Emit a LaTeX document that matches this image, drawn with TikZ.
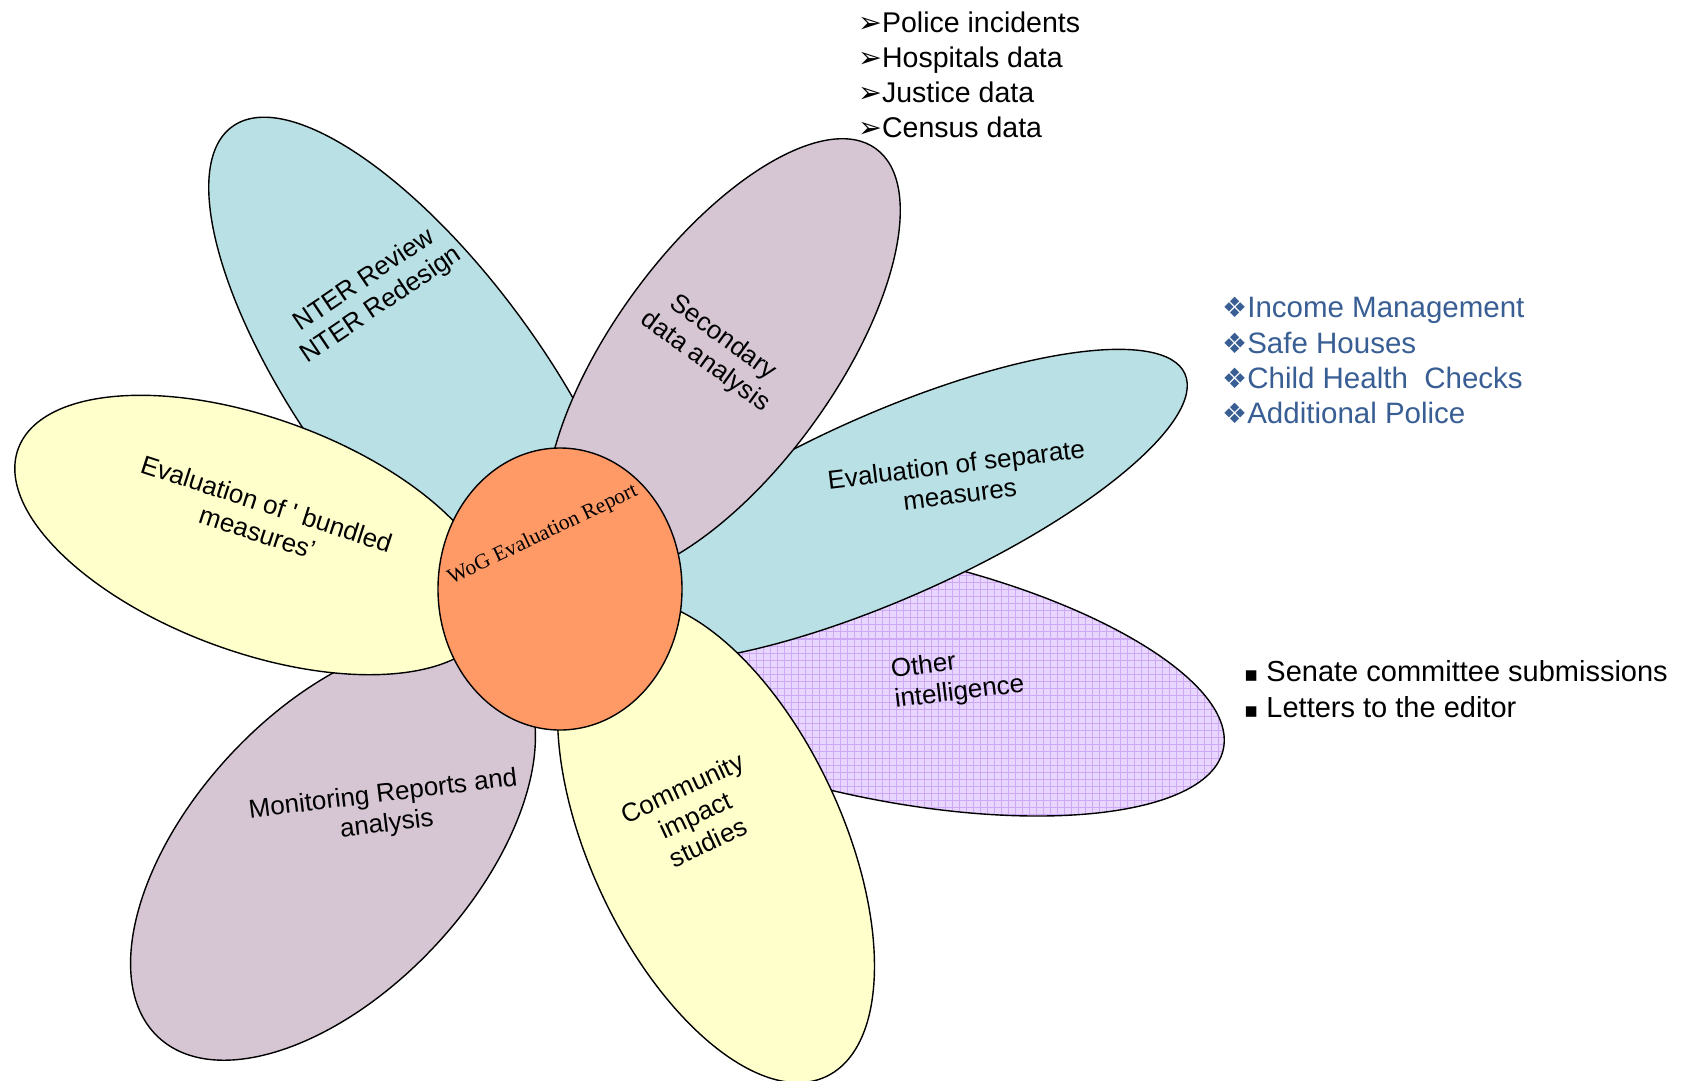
\documentclass[tikz,border=0pt]{standalone}
\usepackage{fontspec}
\newfontfamily\arial{Liberation Sans}
\newfontfamily\dejavu{DejaVu Sans}
\newfontfamily\tnr{Liberation Serif}
\usetikzlibrary{patterns}
\pgfdeclarepatternformonly{finegrid}{\pgfqpoint{-1pt}{-1pt}}{\pgfqpoint{8pt}{8pt}}{\pgfqpoint{7pt}{7pt}}{%
 \pgfsetlinewidth{1pt}%
 \pgfpathmoveto{\pgfqpoint{0pt}{0pt}}\pgfpathlineto{\pgfqpoint{7.1pt}{0pt}}%
 \pgfpathmoveto{\pgfqpoint{0pt}{0pt}}\pgfpathlineto{\pgfqpoint{0pt}{7.1pt}}%
 \pgfusepath{stroke}}
\definecolor{tealp}{RGB}{185,224,228}
\definecolor{mauvep}{RGB}{214,198,212}
\definecolor{yellp}{RGB}{255,255,204}
\definecolor{orngp}{RGB}{255,153,102}
\definecolor{lavp}{RGB}{232,214,255}
\definecolor{lavgrid}{RGB}{204,168,245}
\definecolor{blup}{RGB}{56,94,148}
\begin{document}
\begin{tikzpicture}[x=1pt,y=1pt,
 petal/.style={draw=black, line width=1.4pt},
 ptext/.style={font=\arial\fontsize{26}{30}\selectfont, align=center, inner sep=0pt},
 ltext/.style={font=\arial\fontsize{28.5}{34}\selectfont, anchor=base west, inner sep=0pt},
 btext/.style={font=\arial\fontsize{29.5}{34}\selectfont, anchor=base west, inner sep=0pt, text=blup},
]
\useasboundingbox[fill=white] (0,0) rectangle (1691,-1080);
% petals, back to front
\path[petal, fill=tealp, rotate around={-54:(425,-392)}] (425,-392) ellipse [x radius=328, y radius=121];
\path[petal, preaction={fill=lavp}, pattern=finegrid, pattern color=lavgrid, rotate around={-12:(879,-676)}] (879,-676) ellipse [x radius=352, y radius=122];
\path[petal, fill=tealp, rotate around={24:(888,-506)}] (888,-506) ellipse [x radius=325, y radius=92];
\path[petal, fill=mauvep, rotate around={54:(723,-359)}] (723,-359) ellipse [x radius=260, y radius=111];
\path[petal, fill=mauvep, rotate around={47:(333,-850)}] (333,-850) ellipse [x radius=256, y radius=140];
\path[petal, fill=yellp, rotate around={-20:(255,-535)}] (255,-535) ellipse [x radius=252, y radius=117];
\path[petal, fill=yellp, rotate around={-65:(716,-841)}] (716,-841) ellipse [x radius=260, y radius=126];
\path[petal, fill=orngp] (560,-589) ellipse [x radius=122, y radius=141];
% petal texts
\node[ptext, rotate=34] (nter) at (373,-293) {NTER Review\\NTER Redesign};
\node[ptext, rotate=-36] (second) at (714,-350) {Secondary\\data analysis};
\node[ptext, rotate=-18] (bundled) at (262,-518) {Evaluation of ' bundled\\measures’};
\node[ptext, rotate=7] (separate) at (958,-479) {Evaluation of separate\\measures};
\node[ptext, rotate=7, align=left, anchor=west] (other) at (893,-686) {Other\\intelligence};
\node[ptext, rotate=7] (monitor) at (385,-810) {Monitoring Reports and\\analysis};
\node[ptext, rotate=25] (community) at (695,-815) {Community\\impact\\studies};
\node[font=\tnr\fontsize{21.5}{25}\selectfont, rotate=25.5, inner sep=0pt] (wog) at (543,-535) {WoG Evaluation Report};
% lists
\node[ltext] (l1) at (858,-32) {{\dejavu ➢}Police incidents};
\node[ltext] (l2) at (858,-67) {{\dejavu ➢}Hospitals data};
\node[ltext] (l3) at (858,-102) {{\dejavu ➢}Justice data};
\node[ltext] (l4) at (858,-137) {{\dejavu ➢}Census data};
\node[btext] (b1) at (1222,-317) {{\dejavu\fontsize{28}{34}\selectfont ❖}Income Management};
\node[btext] (b2) at (1222,-353) {{\dejavu\fontsize{28}{34}\selectfont ❖}Safe Houses};
\node[btext] (b3) at (1222,-388) {{\dejavu\fontsize{28}{34}\selectfont ❖}Child Health~ Checks};
\node[btext] (b4) at (1222,-423) {{\dejavu\fontsize{28}{34}\selectfont ❖}Additional Police};
\node[ltext, font=\arial\fontsize{29}{34}\selectfont] (s1) at (1244,-681) {{\dejavu\fontsize{21}{21}\selectfont ▪}\hspace{8pt}Senate committee submissions};
\node[ltext, font=\arial\fontsize{29}{34}\selectfont] (s2) at (1244,-717) {{\dejavu\fontsize{21}{21}\selectfont ▪}\hspace{8pt}Letters to the editor};
\end{tikzpicture}
\end{document}
